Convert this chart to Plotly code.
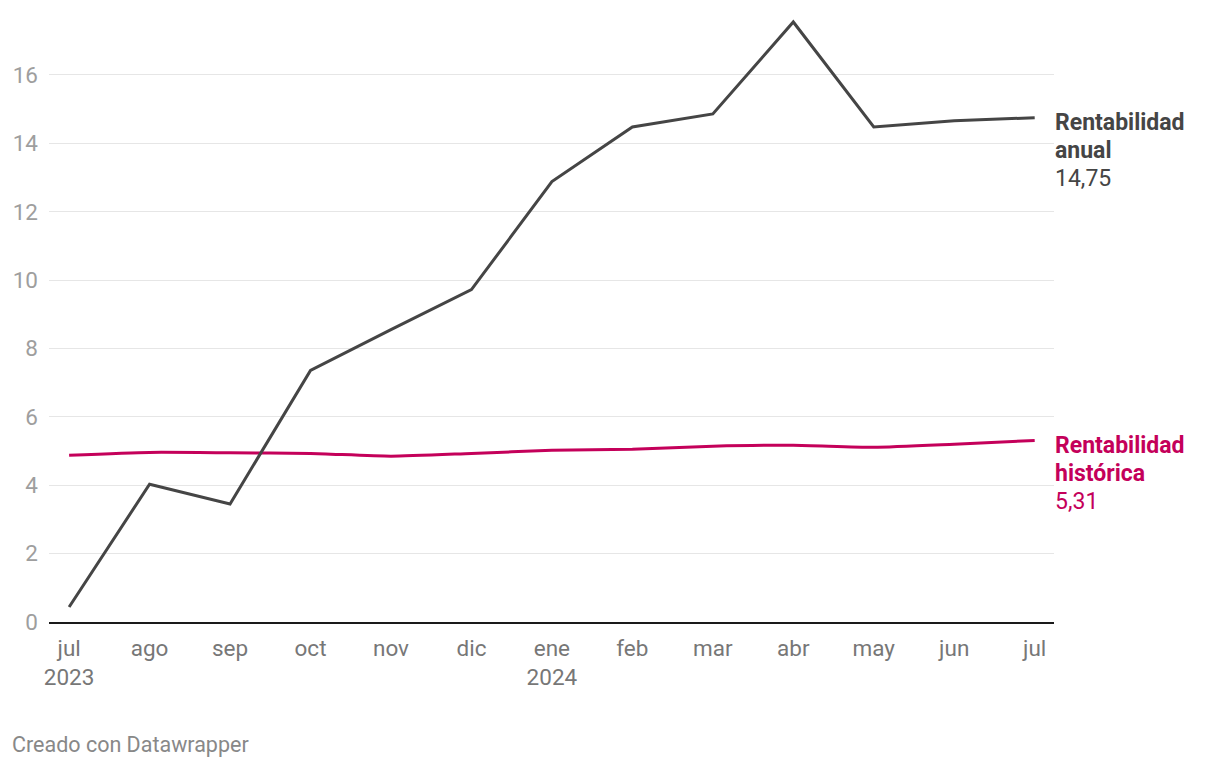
import plotly.graph_objects as go

months = ["jul<br>2023", "ago", "sep", "oct", "nov", "dic", "ene<br>2024",
          "feb", "mar", "abr", "may", "jun", "jul"]
anual = [0.44, 4.03, 3.45, 7.36, 8.55, 9.72, 12.88, 14.48, 14.86, 17.55, 14.48, 14.66, 14.75]
historica = [4.88, 4.96, 4.95, 4.93, 4.85, 4.93, 5.02, 5.05, 5.14, 5.17, 5.11, 5.20, 5.31]
y_ticks = [0, 2, 4, 6, 8, 10, 12, 14, 16]
label_anual = ["Rentabilidad", "anual"]
label_hist = ["Rentabilidad", "histórica"]

c_anual = "#454545"
c_hist = "#c4005a"
font = "Roboto"

fig = go.Figure()
fig.add_trace(go.Scatter(x=months, y=historica, mode="lines",
                         line=dict(color=c_hist, width=3, shape="spline", smoothing=0.6),
                         hoverinfo="skip"))
fig.add_trace(go.Scatter(x=months, y=anual, mode="lines",
                         line=dict(color=c_anual, width=3),
                         hoverinfo="skip"))


def add_label(lines, value, color):
    texts = [f"<b>{lines[0]}</b>", f"<b>{lines[1]}</b>", f"{value:.2f}".replace(".", ",")]
    for i, t in enumerate(texts):
        fig.add_annotation(x=1, xref="paper", y=value, yref="y", xanchor="left", yanchor="middle",
                           xshift=-1, yshift=-5 - 28 * i, showarrow=False, text=t,
                           font=dict(family=font, size=23, color=color))


add_label(label_anual, anual[-1], c_anual)
add_label(label_hist, historica[-1], c_hist)

fig.add_annotation(x=-0.0388, xref="paper", y=736, yref="paper", xanchor="left", yanchor="middle",
                   showarrow=False, text="Creado con Datawrapper",
                   font=dict(family=font, size=21.5, color="#888888"))

W, H = 1212, 760
ml, mr, mt, mb = 41, 166, 0, 146
plot_h = H - mt - mb
plot_w = W - ml - mr
# credit position: page y=744 -> fig y=736
fig.layout.annotations[-1].y = (plot_h - (736 - mt)) / plot_h
fig.layout.annotations[-1].x = (2 - ml) / plot_w

fig.update_layout(
    width=W, height=H,
    margin=dict(l=ml, r=mr, t=mt, b=mb, pad=0),
    paper_bgcolor="white", plot_bgcolor="white",
    showlegend=False,
    font=dict(family=font),
    xaxis=dict(type="category", range=[-0.25, 12.24], showgrid=False,
               showline=True, linecolor="#1a1a1a", linewidth=2,
               ticks="", ticklabelstandoff=5,
               tickfont=dict(size=22.5, color="#777777"), fixedrange=True),
    yaxis=dict(range=[0, plot_h / 34.19], tickvals=y_ticks, showgrid=True,
               gridcolor="#e6e6e6", gridwidth=1,
               zeroline=False, ticks="", ticklabelstandoff=10,
               tickfont=dict(size=22.5, color="#9e9e9e"), fixedrange=True),
)

fig.write_html("out.html")
